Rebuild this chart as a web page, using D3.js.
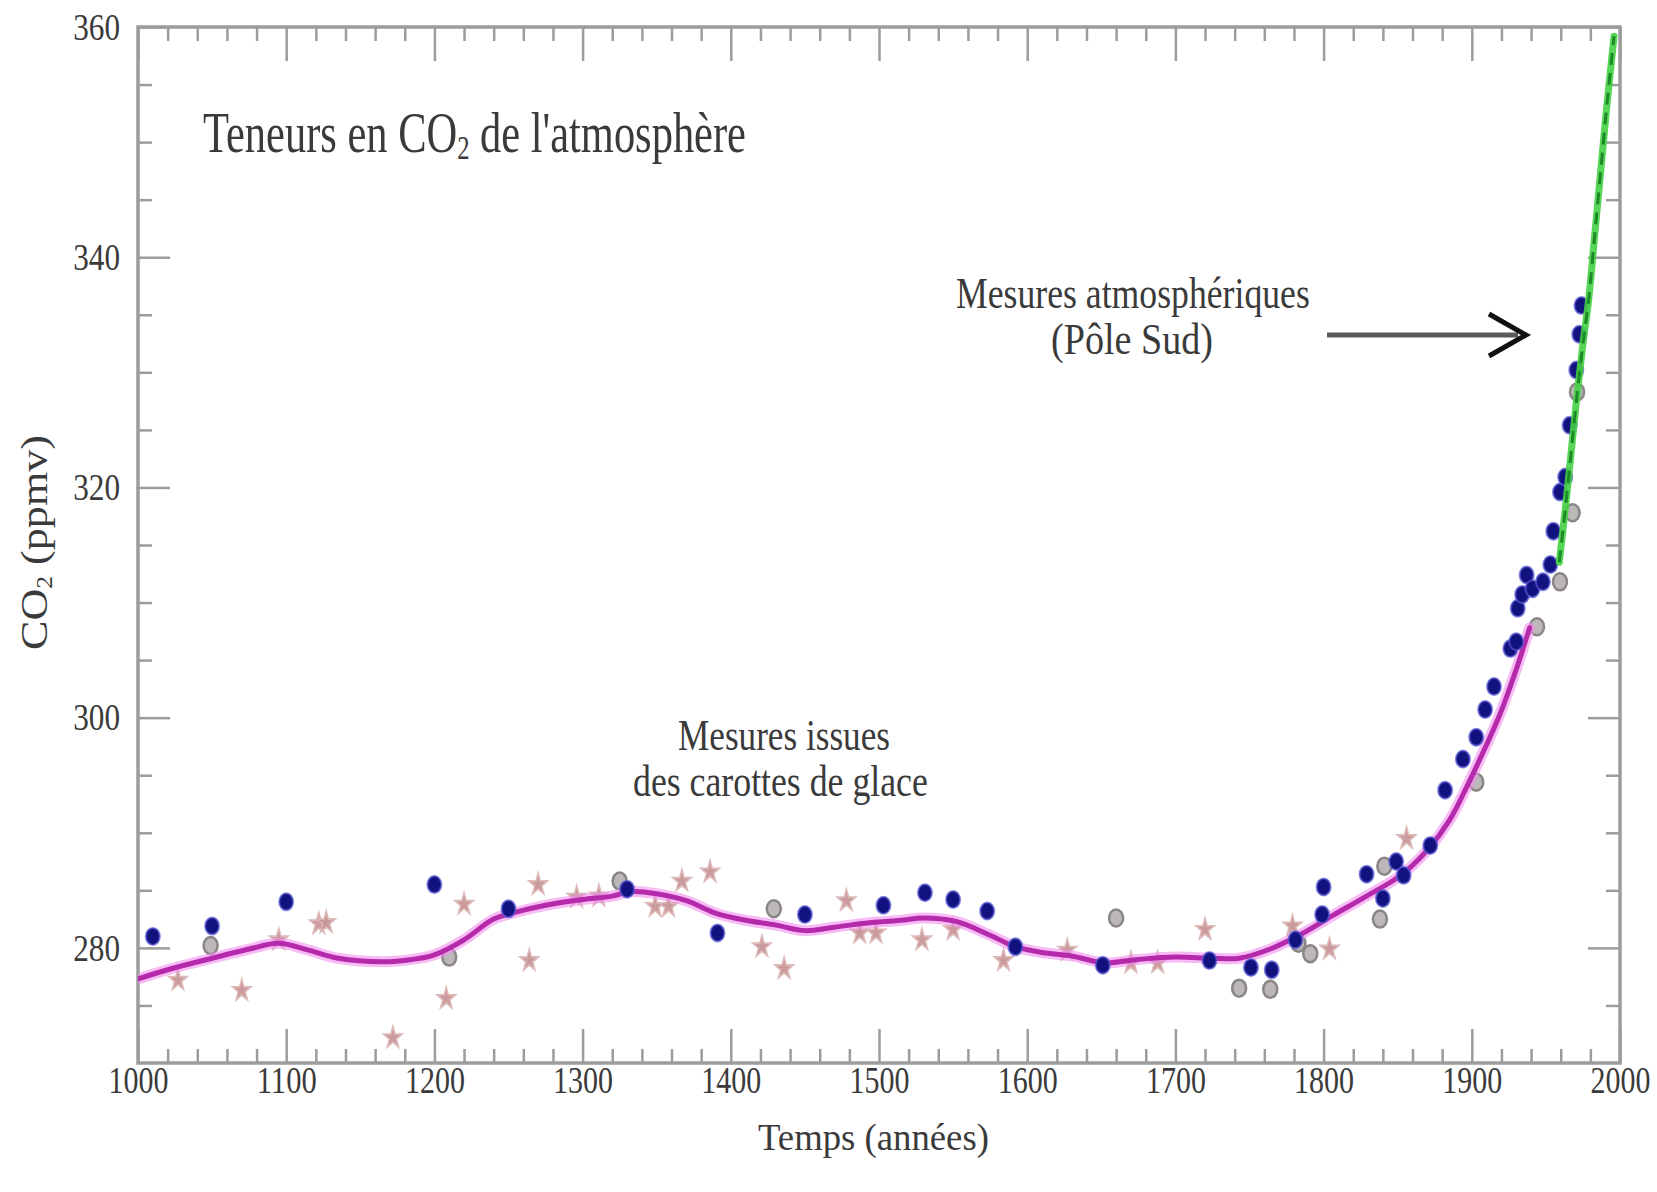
<!DOCTYPE html>
<html><head><meta charset="utf-8">
<script src="https://cdn.jsdelivr.net/npm/d3@7"></script>
<style>
html,body{margin:0;padding:0;background:#fff;}
svg{display:block;background:#fff;}
text{font-family:"Liberation Serif","Times New Roman",serif;}
</style></head>
<body><svg id="chart" width="1657" height="1192"></svg>
<script>
// ---------- data ----------
const xTickLabels = [1000,1100,1200,1300,1400,1500,1600,1700,1800,1900,2000];
const yTickLabels = [280,300,320,340,360];

// smoothed ice-core curve (magenta)
const smoothYears  = [1000,1020,1050,1075,1095,1115,1135,1165,1185,1200,1220,1240,1255,1275,1300,1320,1333,1350,1370,1390,1410,1430,1450,1470,1495,1515,1530,1552,1575,1592,1610,1630,1652,1675,1700,1725,1743,1764,1785,1806,1829,1852,1870,1885,1897,1908,1919,1930,1939];
const smoothValues = [277.3,278.1,279.1,279.9,280.4,279.8,279.1,278.8,279.0,279.4,280.7,282.5,283.1,283.7,284.2,284.5,284.9,284.7,284.1,283.0,282.4,282.0,281.5,281.8,282.2,282.4,282.6,282.3,281.1,280.1,279.6,279.3,278.7,279.0,279.2,279.1,279.1,279.9,281.2,282.8,284.5,286.3,288.5,291.1,294.1,297.1,300.3,304.2,307.8];

// atmospheric measurements, South Pole (green)
const atmYears  = [1959,1963,1967,1971,1975,1979,1983,1987,1991,1995,1996];
const atmValues = [313.5,318.0,323.0,328.0,332.5,336.5,342.0,347.5,353.0,358.0,359.2];

// ice core samples: dark blue dots
const dotYears  = [1010,1050,1100,1200,1250,1330,1391,1450,1503,1531,1550,1573,1592,1651,1723,1751,1765,1781,1799,1800,1829,1840,1849,1854,1872,1882,1894,1903,1909,1915,1926,1930,1931,1934,1937,1941,1948,1953,1955,1959.5,1963,1966,1970.5,1972.5,1974];
const dotValues = [281.0,281.9,284.0,285.5,283.4,285.1,281.3,282.9,283.7,284.8,284.2,283.2,280.1,278.5,278.9,278.3,278.1,280.7,282.9,285.3,286.4,284.3,287.5,286.3,288.9,293.7,296.4,298.3,300.7,302.7,306.0,306.6,309.5,310.7,312.4,311.2,311.8,313.3,316.2,319.6,320.9,325.4,330.2,333.3,335.8];

// ice core samples: grey circles
const circleYears  = [1049,1210,1325,1429,1660,1743,1764,1783,1791,1838,1841,1903,1944,1959.5,1968,1971];
const circleValues = [280.2,279.2,285.8,283.4,282.6,276.5,276.4,280.4,279.5,282.5,287.1,294.4,307.9,311.8,317.8,328.3];

// ice core samples: pink stars
const starYears  = [1027,1070,1095,1122,1127,1172,1208,1220,1264,1270,1296,1311,1349,1358,1367,1386,1421,1436,1478,1487,1498,1529,1550,1584,1627,1670,1688,1720,1779,1804,1856];
const starValues = [277.2,276.3,280.7,282.1,282.2,272.2,275.6,283.8,278.9,285.5,284.4,284.5,283.6,283.6,285.8,286.6,280.1,278.2,284.1,281.3,281.3,280.7,281.6,278.9,279.8,278.7,278.7,281.6,281.9,279.9,289.5];

// ---------- drawing ----------
const svg = d3.select('#chart');
const x = d3.scaleLinear().domain([1000,2000]).range([138,1620]);
const y = d3.scaleLinear().domain([270,360]).range([1063,27]);
const AX = '#9c9c9c', TXT = '#3a3a3a';
const FONT = '"Liberation Serif","Times New Roman",serif';

const minorX = d3.range(1020,2000,20).filter(v => v % 100 !== 0);
const minorY = d3.range(275,360,5).filter(v => v % 20 !== 0);

function tickStyle(g, w){
  g.select('.domain').remove();
  g.selectAll('.tick line').attr('stroke', AX).attr('stroke-width', w);
  g.attr('font-family', FONT);
}

// bottom axis
svg.append('g').attr('transform', `translate(0,${y(270)})`)
  .call(d3.axisBottom(x).tickValues(minorX).tickSize(-14).tickSizeOuter(0).tickFormat(''))
  .call(g => tickStyle(g, 2.5));
const bx = svg.append('g').attr('transform', `translate(0,${y(270)})`)
  .call(d3.axisBottom(x).tickValues(xTickLabels).tickSize(-34).tickSizeOuter(0).tickPadding(3).tickFormat(d3.format('d')))
  .call(g => tickStyle(g, 2.5));
bx.attr('font-size', 38);
bx.selectAll('text').attr('fill', TXT).each(function(){
  const t = d3.select(this);
  const len = this.getComputedTextLength();
  t.attr('transform', `scale(${60 / len},1)`);
});

// top axis
svg.append('g').attr('transform', `translate(0,${y(360)})`)
  .call(d3.axisTop(x).tickValues(minorX).tickSize(-14).tickSizeOuter(0).tickFormat(''))
  .call(g => tickStyle(g, 2.5));
svg.append('g').attr('transform', `translate(0,${y(360)})`)
  .call(d3.axisTop(x).tickValues(xTickLabels).tickSize(-34).tickSizeOuter(0).tickFormat(''))
  .call(g => tickStyle(g, 2.5));

// left axis
svg.append('g').attr('transform', `translate(${x(1000)},0)`)
  .call(d3.axisLeft(y).tickValues(minorY).tickSize(-14).tickSizeOuter(0).tickFormat(''))
  .call(g => tickStyle(g, 2.5));
const ly = svg.append('g').attr('transform', `translate(${x(1000)},0)`)
  .call(d3.axisLeft(y).tickValues(yTickLabels).tickSize(-32).tickSizeOuter(0).tickPadding(18).tickFormat(d3.format('d')))
  .call(g => tickStyle(g, 2.5));
ly.attr('font-size', 38);
ly.selectAll('text').attr('fill', TXT)
  .attr('textLength', d => String(d).length * 15.6).attr('lengthAdjust', 'spacingAndGlyphs');

// right axis
svg.append('g').attr('transform', `translate(${x(2000)},0)`)
  .call(d3.axisRight(y).tickValues(minorY).tickSize(-14).tickSizeOuter(0).tickFormat(''))
  .call(g => tickStyle(g, 2.5));
svg.append('g').attr('transform', `translate(${x(2000)},0)`)
  .call(d3.axisRight(y).tickValues(yTickLabels).tickSize(-32).tickSizeOuter(0).tickFormat(''))
  .call(g => tickStyle(g, 2.5));

// frame
svg.append('rect')
  .attr('x', x(1000)).attr('y', y(360))
  .attr('width', x(2000) - x(1000)).attr('height', y(270) - y(360))
  .attr('fill', 'none').attr('stroke', AX).attr('stroke-width', 3.5);

// clip
svg.append('clipPath').attr('id', 'plotclip').append('rect')
  .attr('x', x(1000)).attr('y', y(360)).attr('width', x(2000) - x(1000)).attr('height', y(270) - y(360));
const plot = svg.append('g').attr('clip-path', 'url(#plotclip)');

// stars
const starSym = d3.symbol().type(d3.symbolStar).size(105);
plot.append('g').selectAll('path').data(starYears.map((d,i) => [d, starValues[i]])).join('path')
  .attr('d', starSym)
  .attr('transform', d => `translate(${x(d[0])},${y(d[1])}) scale(1,1.2)`)
  .attr('fill', '#c99597').attr('stroke', '#dcb6b6').attr('stroke-width', 1.5).attr('opacity', 0.95);

// grey circles
plot.append('g').selectAll('ellipse').data(circleYears.map((d,i) => [d, circleValues[i]])).join('ellipse')
  .attr('cx', d => x(d[0])).attr('cy', d => y(d[1]))
  .attr('rx', 7).attr('ry', 8.5)
  .attr('fill', '#bdb8b8').attr('stroke', '#8b8686').attr('stroke-width', 2.5);

// magenta smooth curve
const smoothLine = d3.line().x(d => x(d[0])).y(d => y(d[1])).curve(d3.curveCatmullRom.alpha(0.5));
const smoothData = smoothYears.map((d,i) => [d, smoothValues[i]]);
plot.append('path').datum(smoothData).attr('d', smoothLine)
  .attr('fill', 'none').attr('stroke', '#f28ef0').attr('stroke-width', 11).attr('stroke-opacity', 0.6)
  .attr('stroke-linejoin', 'round').attr('stroke-linecap', 'round');
plot.append('path').datum(smoothData).attr('d', smoothLine)
  .attr('fill', 'none').attr('stroke', '#b42aaa').attr('stroke-width', 5)
  .attr('stroke-linejoin', 'round').attr('stroke-linecap', 'round');

// blue dots
plot.append('g').selectAll('ellipse').data(dotYears.map((d,i) => [d, dotValues[i]])).join('ellipse')
  .attr('cx', d => x(d[0])).attr('cy', d => y(d[1]))
  .attr('rx', 7).attr('ry', 8.5)
  .attr('fill', '#12127f').attr('stroke', '#5858d6').attr('stroke-width', 2).attr('stroke-opacity', 0.7);

// green atmospheric curve
const atmLine = d3.line().x(d => x(d[0])).y(d => y(d[1])).curve(d3.curveMonotoneX);
const atmData = atmYears.map((d,i) => [d, atmValues[i]]);
plot.append('path').datum(atmData).attr('d', atmLine)
  .attr('fill', 'none').attr('stroke', '#44d044').attr('stroke-width', 7).attr('stroke-opacity', 0.9)
  .attr('stroke-linecap', 'round');
plot.append('path').datum(atmData).attr('d', atmLine)
  .attr('fill', 'none').attr('stroke', '#1d8a28').attr('stroke-width', 3).attr('stroke-dasharray', '12,8');

// ---------- texts ----------
function fitText(parts, x0, base, width, size, rotate){
  const g = svg.append('g').attr('transform', `translate(${x0},${base})` + (rotate ? ` rotate(${rotate})` : ''));
  const t = g.append('text').attr('x', 0).attr('y', 0).attr('font-size', size).attr('fill', TXT).attr('font-family', FONT);
  parts.forEach(p => {
    const ts = t.append('tspan').text(p.t);
    if (p.sub) ts.attr('font-size', size * 0.58).attr('dy', size * 0.12);
    if (p.after) ts.attr('dy', -size * 0.12);
  });
  const len = t.node().getComputedTextLength();
  t.attr('transform', `scale(${width / len},1)`);
  return g;
}

fitText([{t:'Teneurs en CO'},{t:'2',sub:true},{t:" de l'atmosphère",after:true}], 203, 152, 543, 58);
fitText([{t:'Mesures atmosphériques'}], 956, 308, 354, 44);
fitText([{t:'(Pôle Sud)'}], 1051, 354, 162, 44);
fitText([{t:'Mesures issues'}], 678, 750, 212, 44);
fitText([{t:'des carottes de glace'}], 633, 796, 295, 44);
fitText([{t:'Temps (années)'}], 758, 1150, 231, 38);
fitText([{t:'CO'},{t:'2',sub:true},{t:' (ppmv)',after:true}], 47, 650, 215, 38, -90);

// arrow
svg.append('line').attr('x1', 1327).attr('y1', 335).attr('x2', 1518).attr('y2', 335)
  .attr('stroke', '#5a5a5a').attr('stroke-width', 5);
svg.append('path').attr('d', 'M1489,314 L1526,335 L1489,356')
  .attr('fill', 'none').attr('stroke', '#111').attr('stroke-width', 5).attr('stroke-linejoin', 'miter');
</script>
</body></html>
